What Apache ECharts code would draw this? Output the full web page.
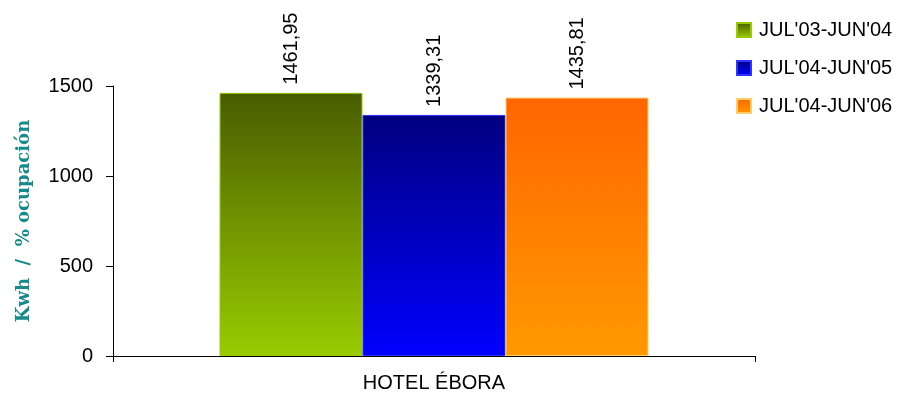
<!DOCTYPE html>
<html><head><meta charset="utf-8">
<script src="https://cdn.jsdelivr.net/npm/echarts@6/dist/echarts.min.js"></script>
<style>html,body{margin:0;padding:0;background:#fff}#c{width:898px;height:400px}</style>
</head><body><div id="c"></div>
<script>
const categories = ["HOTEL ÉBORA"];
const seriesNames = ["JUL'03-JUN'04", "JUL'04-JUN'05", "JUL'04-JUN'06"];
const valuesA = [1461.95];
const valuesB = [1339.31];
const valuesC = [1435.81];
const yTicks = [0, 500, 1000, 1500];

const grads = [
  ['#485c00', '#99cc00', '#99cc00'],
  ['#000080', '#0000ff', '#3333ff'],
  ['#ff6600', '#ff9900', '#ffcc66']
];
function grad(g){return new echarts.graphic.LinearGradient(0,0,0,1,[{offset:0,color:g[0]},{offset:1,color:g[1]}]);}
const font = 'Liberation Sans, Arial, sans-serif';
const allVals = [valuesA, valuesB, valuesC];
const chart = echarts.init(document.getElementById('c'), null, {renderer:'canvas'});
chart.setOption({
  animation:false,
  grid:{left:113, right:143, top:86, bottom:44, containLabel:false, outerBoundsMode:'none'},
  legend:{
    orient:'vertical', left:736, top:20, padding:0, itemWidth:14, itemHeight:14, itemGap:18,
    icon:'rect',
    textStyle:{fontFamily:font, fontSize:20, color:'#000', padding:[0,0,0,3]},
    data:seriesNames
  },
  xAxis:{
    type:'category', data:categories,
    axisLine:{lineStyle:{color:'#000', width:1}},
    axisTick:{show:true, length:6, lineStyle:{color:'#000'}},
    axisLabel:{fontFamily:font, fontSize:20, color:'#000', margin:17}
  },
  yAxis:{
    type:'value', min:yTicks[0], max:yTicks[yTicks.length-1], interval:500,
    name:'Kwh  /  % ocupación', nameLocation:'middle', nameGap:80, nameRotate:90,
    nameTextStyle:{fontFamily:'DejaVu Serif, serif', fontWeight:'bold', fontSize:18, color:'#148a8a'},
    axisLine:{show:true, lineStyle:{color:'#000', width:1}},
    axisTick:{show:true, length:7, lineStyle:{color:'#000'}},
    splitLine:{show:false},
    axisLabel:{fontFamily:font, fontSize:20, color:'#000', margin:20, formatter:v=>String(v)}
  },
  series: seriesNames.map((n,i)=>({
    name:n, type:'bar', data:allVals[i], barWidth:143, barGap:'0%',
    itemStyle:{color:grad(grads[i]), borderColor:grads[i][2], borderWidth:1},
    label:{show:true, position:'top', rotate:90, distance:8, align:'left', verticalAlign:'middle',
      fontFamily:font, fontSize:20, color:'#000',
      formatter:p=>p.value.toFixed(2).replace('.',',')}
  }))
});
</script></body></html>
